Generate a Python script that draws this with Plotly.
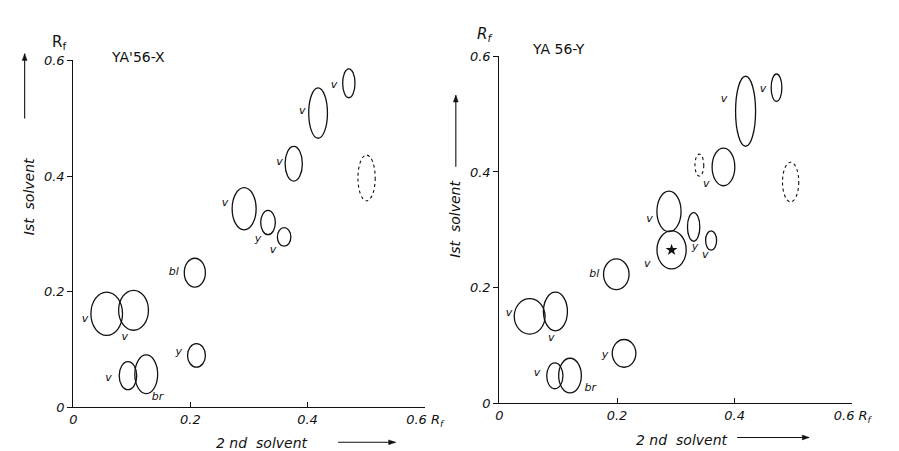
import plotly.graph_objects as go

# ---------------- data (Rf values) ----------------
# Left panel: YA'56-X
left_spot_x = [0.4705, 0.418, 0.3764, 0.5008, 0.2917, 0.3325, 0.360, 0.2075, 0.057, 0.1028, 0.2103, 0.0933, 0.1245]
left_spot_y = [0.5605, 0.509, 0.4214, 0.3968, 0.3436, 0.3197, 0.2948, 0.233, 0.162, 0.168, 0.090, 0.055, 0.0574]
left_spot_w = [0.021, 0.032, 0.0295, 0.0295, 0.041, 0.025, 0.023, 0.036, 0.054, 0.051, 0.0305, 0.030, 0.039]
left_spot_h = [0.050, 0.087, 0.060, 0.079, 0.073, 0.042, 0.032, 0.050, 0.075, 0.069, 0.0406, 0.0485, 0.067]
left_spot_dashed = [False, False, False, True, False, False, False, False, False, False, False, False, False]

left_label_text = ["v", "v", "v", "v", "y", "v", "bl", "v", "v", "y", "v", "br"]
left_label_x = [0.445, 0.391, 0.352, 0.259, 0.3155, 0.341, 0.1717, 0.020, 0.0878, 0.180, 0.060, 0.1438]
left_label_y = [0.557, 0.512, 0.424, 0.353, 0.290, 0.272, 0.233, 0.152, 0.1216, 0.0953, 0.0507, 0.0172]

# Right panel: YA 56-Y
right_spot_x = [0.4712, 0.4186, 0.340, 0.381, 0.4952, 0.2884, 0.2928, 0.3303, 0.360, 0.1988, 0.0515, 0.0953, 0.212, 0.0943, 0.1201]
right_spot_y = [0.5457, 0.505, 0.4118, 0.4087, 0.3826, 0.3318, 0.2652, 0.305, 0.2815, 0.2231, 0.1504, 0.1588, 0.0864, 0.0475, 0.048]
right_spot_w = [0.0182, 0.034, 0.015, 0.0386, 0.0276, 0.041, 0.0497, 0.021, 0.0187, 0.0435, 0.0524, 0.0408, 0.0402, 0.0276, 0.0386]
right_spot_h = [0.0473, 0.121, 0.038, 0.065, 0.0685, 0.070, 0.0657, 0.0496, 0.0334, 0.053, 0.0613, 0.0669, 0.048, 0.0446, 0.060]
right_spot_dashed = [False, False, True, False, True, False, False, False, False, False, False, False, False, False, False]

right_label_text = ["v", "v", "v", "v", "v", "y", "v", "bl", "v", "v", "y", "v", "br"]
right_label_x = [0.4484, 0.382, 0.3518, 0.2553, 0.2515, 0.3325, 0.350, 0.1615, 0.0165, 0.0882, 0.1797, 0.0639, 0.1544]
right_label_y = [0.5422, 0.5265, 0.379, 0.3176, 0.2413, 0.269, 0.2552, 0.223, 0.155, 0.1126, 0.0836, 0.0518, 0.0267]

star_x = [0.2928]
star_y = [0.2652]

tick_vals = [0, 0.2, 0.4, 0.6]
x_tick_text = ["0", "0.2", "0.4", "0.6 R<sub>f</sub>"]
y_tick_text = ["0", "0.2", "0.4", "0.6"]

# ---------------- figure ----------------
INK = "#111111"
FONT = "DejaVu Sans"
W, H = 899, 451

fig = go.Figure()

def add_spots(xs, ys, ws, hs, dashed, xref, yref):
    for x, y, w, h, d in zip(xs, ys, ws, hs, dashed):
        fig.add_shape(type="circle", xref=xref, yref=yref,
                      x0=x - w / 2, x1=x + w / 2, y0=y - h / 2, y1=y + h / 2,
                      line=dict(color=INK, width=1.3 if not d else 1.1, dash="dot" if d else "solid"),
                      fillcolor="rgba(0,0,0,0)")

add_spots(left_spot_x, left_spot_y, left_spot_w, left_spot_h, left_spot_dashed, "x", "y")
add_spots(right_spot_x, right_spot_y, right_spot_w, right_spot_h, right_spot_dashed, "x2", "y2")

fig.add_trace(go.Scatter(x=left_label_x, y=left_label_y, text=left_label_text, mode="text",
                         textfont=dict(family=FONT, size=11, color=INK, style="italic"),
                         xaxis="x", yaxis="y", showlegend=False, hoverinfo="skip"))
fig.add_trace(go.Scatter(x=right_label_x, y=right_label_y, text=right_label_text, mode="text",
                         textfont=dict(family=FONT, size=11, color=INK, style="italic"),
                         xaxis="x2", yaxis="y2", showlegend=False, hoverinfo="skip"))
fig.add_trace(go.Scatter(x=star_x, y=star_y, mode="markers",
                         marker=dict(symbol="star", size=9, color=INK, line=dict(width=0)),
                         xaxis="x2", yaxis="y2", showlegend=False, hoverinfo="skip"))

axis_common = dict(range=[0, 0.6], showgrid=False, zeroline=False, showline=True,
                   linecolor=INK, linewidth=1.3, tickvals=tick_vals, ticklen=5,
                   tickcolor=INK, tickwidth=1.2,
                   tickfont=dict(family=FONT, size=13, color=INK, style="italic"))

fig.update_layout(
    width=W, height=H, autosize=False,
    margin=dict(l=0, r=0, t=0, b=0),
    paper_bgcolor="white", plot_bgcolor="white",
    showlegend=False,
    xaxis=dict(axis_common, domain=[0.0701, 0.4716], anchor="y", ticks="inside", ticktext=x_tick_text),
    yaxis=dict(axis_common, domain=[0.0998, 0.8958], anchor="x", ticks="outside", ticktext=y_tick_text),
    xaxis2=dict(axis_common, domain=[0.557, 0.9603], anchor="y2", ticks="inside", ticktext=x_tick_text),
    yaxis2=dict(axis_common, domain=[0.1093, 0.9053], anchor="x2", ticks="outside", ticktext=y_tick_text),
)

def px(xp, yp):
    return xp / W, 1 - yp / H

ann = []
def text(xp, yp, s, size=13, angle=0, style="italic", xanchor="center"):
    x, y = px(xp, yp)
    ann.append(dict(x=x, y=y, xref="paper", yref="paper", text=s, showarrow=False,
                    textangle=angle, xanchor=xanchor, yanchor="middle",
                    font=dict(family=FONT, size=size, color=INK, style=style)))

def arrow(x0, y0, x1, y1):
    # shaft from (x0,y0) to head at (x1,y1), pixel coordinates
    a, b = px(x0, y0)
    c, d = px(x1, y1)
    fig.add_shape(type="line", xref="paper", yref="paper", x0=a, y0=b, x1=c, y1=d,
                  line=dict(color=INK, width=1.1))
    # arrowhead triangle
    dx, dy = x1 - x0, y1 - y0
    L = (dx * dx + dy * dy) ** 0.5
    ux, uy = dx / L, dy / L
    nx, ny = -uy, ux
    hl, hw = 7, 2.5
    bx, by = x1 - ux * hl, y1 - uy * hl
    pts = [(x1, y1), (bx + nx * hw, by + ny * hw), (bx - nx * hw, by - ny * hw)]
    pp = [px(p, q) for p, q in pts]
    path = "M {} {} L {} {} L {} {} Z".format(pp[0][0], pp[0][1], pp[1][0], pp[1][1], pp[2][0], pp[2][1])
    fig.add_shape(type="path", xref="paper", yref="paper", path=path,
                  fillcolor=INK, line=dict(color=INK, width=0.5))

# left panel decorations
text(48, 28, "R<sub>f</sub>", size=15, style="normal")
text(100, 43, "YA'56-X", size=14, style="normal", xanchor="left")
text(17, 188, "Ist  solvent", size=14, angle=-90)
arrow(13, 107, 13, 40)
text(257, 443, "2 nd  solvent", size=14)
arrow(335, 442, 394, 442)

# right panel decorations
text(486, 20, "R<sub>f</sub>", size=15)
text(532, 35, "YA 56-Y", size=14, style="normal", xanchor="left")
text(455, 211, "Ist  solvent", size=14, angle=-90)
arrow(456, 157, 456, 83)
text(688, 440, "2 nd  solvent", size=14)
arrow(745, 437, 819, 437)

fig.update_layout(annotations=ann)

fig.write_html("out.html")
